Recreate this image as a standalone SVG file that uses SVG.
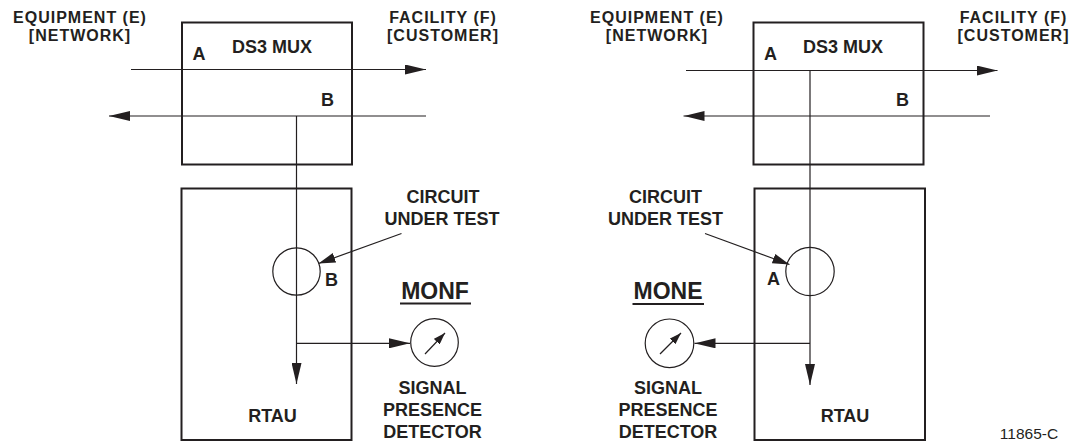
<svg xmlns="http://www.w3.org/2000/svg" width="1085" height="443" viewBox="0 0 1085 443">
<style>
text{font-family:"Liberation Sans",Arial,sans-serif;font-weight:bold;font-size:18px;fill:#231f20;text-anchor:middle}
.hd{font-size:16px;letter-spacing:1px}
.box{fill:none;stroke:#231f20;stroke-width:2}
.ln{fill:none;stroke:#231f20;stroke-width:1.2}
.big{font-size:23px}
.reg{font-weight:normal;font-size:15.5px}
.ul{stroke:#231f20;stroke-width:1.8}
</style>
<defs>
<marker id="ah" markerUnits="userSpaceOnUse" markerWidth="21" markerHeight="10" refX="21" refY="5" orient="auto" viewBox="0 0 21 10"><path d="M0,0L21,5L0,10z" fill="#231f20"/></marker>
<marker id="ac" markerUnits="userSpaceOnUse" markerWidth="17" markerHeight="10" refX="17" refY="5" orient="auto" viewBox="0 0 17 10"><path d="M0,0L17,5L0,10z" fill="#231f20"/></marker>
<marker id="as" markerUnits="userSpaceOnUse" markerWidth="12" markerHeight="8" refX="12" refY="4" orient="auto" viewBox="0 0 12 8"><path d="M0,0L12,4L0,8z" fill="#231f20"/></marker>
</defs>

<g id="labels-left">
<text class="hd" x="80" y="23"><tspan x="80">EQUIPMENT (E)</tspan><tspan x="80" dy="18">[NETWORK]</tspan></text>
<text class="hd" x="443" y="23"><tspan x="443">FACILITY (F)</tspan><tspan x="443" dy="18">[CUSTOMER]</tspan></text>
</g>
<g id="mux-left">
<rect class="box" x="182" y="22.5" width="170" height="142"/>
<text x="272" y="52.5">DS3 MUX</text>
<text x="199" y="60">A</text>
<text x="327.5" y="106">B</text>
</g>
<g id="rtau-left">
<rect class="box" x="181.5" y="188.5" width="170" height="251.5"/>
<text x="272.5" y="422">RTAU</text>
</g>
<g id="cut-left">
<circle class="ln" cx="296.5" cy="271.5" r="23.7"/>
<text x="331.5" y="286">B</text>
<text x="443" y="202.5"><tspan x="443">CIRCUIT</tspan><tspan x="442" dy="22.5">UNDER TEST</tspan></text>
</g>
<g id="monf">
<text class="big" x="435" y="298.5">MONF</text>
<line class="ul" x1="400" y1="303.5" x2="471" y2="303.5"/>
</g>
<g id="spd-left">
<circle class="ln" cx="434.5" cy="342.5" r="23.8"/>
<line class="ln" x1="425" y1="354" x2="445" y2="333" marker-end="url(#as)"/>
<text x="432.5" y="394"><tspan x="432.5">SIGNAL</tspan><tspan x="432.5" dy="22">PRESENCE</tspan><tspan x="432.5" dy="22">DETECTOR</tspan></text>
</g>

<g id="labels-right">
<text class="hd" x="657" y="23"><tspan x="657">EQUIPMENT (E)</tspan><tspan x="657" dy="18">[NETWORK]</tspan></text>
<text class="hd" x="1013.5" y="23"><tspan x="1013.5">FACILITY (F)</tspan><tspan x="1013.5" dy="18">[CUSTOMER]</tspan></text>
</g>
<g id="mux-right">
<rect class="box" x="753.5" y="22.5" width="170" height="142"/>
<text x="843" y="52.5">DS3 MUX</text>
<text x="770.5" y="60">A</text>
<text x="902.5" y="106">B</text>
</g>
<g id="rtau-right">
<rect class="box" x="754.5" y="188.5" width="170.5" height="251.5"/>
<text x="845" y="422">RTAU</text>
</g>
<g id="cut-right">
<circle class="ln" cx="810" cy="271.5" r="24.2"/>
<text x="773.5" y="285">A</text>
<text x="665.5" y="202.5"><tspan x="665.5">CIRCUIT</tspan><tspan x="665.5" dy="22.5">UNDER TEST</tspan></text>
</g>
<g id="mone">
<text class="big" x="668" y="298.5">MONE</text>
<line class="ul" x1="632.5" y1="304" x2="704" y2="304"/>
</g>
<g id="spd-right">
<circle class="ln" cx="669.5" cy="343.3" r="24.3"/>
<line class="ln" x1="660" y1="354" x2="681" y2="333" marker-end="url(#as)"/>
<text x="668" y="394"><tspan x="668">SIGNAL</tspan><tspan x="668" dy="22">PRESENCE</tspan><tspan x="668" dy="22">DETECTOR</tspan></text>
</g>
<g id="code">
<text class="reg" x="1029" y="438.5">11865-C</text>
</g>

<g id="connectors">
<line class="ln" x1="131" y1="69.5" x2="426" y2="69.5" marker-end="url(#ah)"/>
<line class="ln" x1="426" y1="116" x2="109" y2="116" marker-end="url(#ah)"/>
<polyline class="ln" points="296.5,116 296.5,384" marker-end="url(#ah)"/>
<line class="ln" x1="296.5" y1="343.3" x2="410" y2="343.3" marker-end="url(#ah)"/>
<line class="ln" x1="401.5" y1="233.5" x2="318.5" y2="263.5" marker-end="url(#ac)"/>

<line class="ln" x1="686" y1="70.5" x2="997.5" y2="70.5" marker-end="url(#ah)"/>
<line class="ln" x1="990" y1="116" x2="683.5" y2="116" marker-end="url(#ah)"/>
<polyline class="ln" points="810,70.5 810,385" marker-end="url(#ah)"/>
<line class="ln" x1="810" y1="343.3" x2="694.5" y2="343.3" marker-end="url(#ah)"/>
<line class="ln" x1="705" y1="233.5" x2="789.5" y2="264.5" marker-end="url(#ac)"/>
</g>
</svg>
